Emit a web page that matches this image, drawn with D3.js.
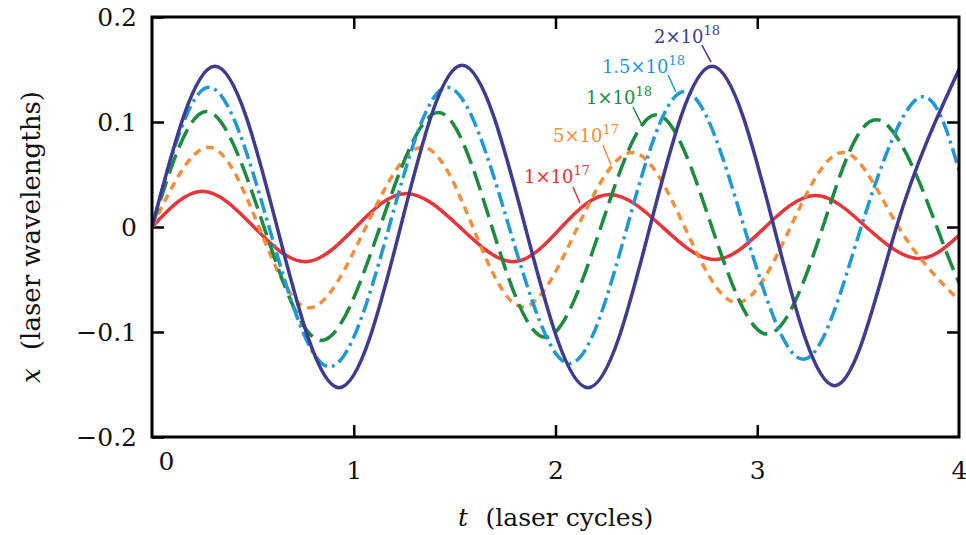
<!DOCTYPE html>
<html><head><meta charset="utf-8">
<script src="https://cdn.jsdelivr.net/npm/d3@7/dist/d3.min.js"></script>
<style>body{margin:0;background:#fff}</style>
</head><body><svg id="c" width="966" height="535"></svg>
<script>
// ---- data ----
const xTicks = [0, 1, 2, 3, 4];
const xTickLabels = ["0", "1", "2", "3", "4"];
const yTicks = [-0.2, -0.1, 0, 0.1, 0.2];
const yTickLabels = ["\u22120.2", "\u22120.1", "0", "0.1", "0.2"];

const labelMantissa = ["1", "5", "1", "1.5", "2"];
const labelExponent = ["17", "17", "18", "18", "18"];

const tRed = [0, 0.25, 0.505, 0.76, 1.01, 1.26, 1.525, 1.79, 2.03, 2.27, 2.53, 2.79, 3.04, 3.29, 3.54, 3.79, 4.0];
const xRed = [0, 0.034, 0, -0.033, 0, 0.032, 0, -0.033, 0, 0.031, 0, -0.031, 0, 0.030, 0, -0.030, -0.008];

const tOrange = [0, 0.28, 0.53, 0.78, 1.06, 1.34, 1.59, 1.84, 2.11, 2.38, 2.64, 2.90, 3.165, 3.43, 3.70, 4.0];
const xOrange = [0, 0.076, 0, -0.077, 0, 0.076, 0, -0.076, 0, 0.071, 0, -0.072, 0, 0.071, 0, -0.070];

const tGreen = [0, 0.27, 0.555, 0.84, 1.13, 1.42, 1.685, 1.95, 2.225, 2.50, 2.775, 3.05, 3.325, 3.60, 3.89, 4.0];
const xGreen = [0, 0.110, 0, -0.108, 0, 0.109, 0, -0.105, 0, 0.107, 0, -0.102, 0, 0.102, 0, -0.053];

const tLightBlue = [0, 0.283, 0.58, 0.88, 1.175, 1.465, 1.77, 2.07, 2.355, 2.64, 2.935, 3.23, 3.515, 3.80, 4.0];
const xLightBlue = [0, 0.133, 0, -0.133, 0, 0.133, 0, -0.130, 0, 0.129, 0, -0.126, 0, 0.123, 0.054];

const tBlue = [0, 0.312, 0.62, 0.927, 1.232, 1.537, 1.85, 2.161, 2.468, 2.776, 3.083, 3.39, 3.69, 4.0];
const xBlue = [0, 0.153, 0, -0.153, 0, 0.154, 0, -0.153, 0, 0.153, 0, -0.151, 0, 0.150];

// annotation anchors in data coordinates (text start, leader line)
const annText = [[1.844, 0.0419], [1.988, 0.081], [2.151, 0.1171], [2.230, 0.1467], [2.488, 0.1752]];
const annLine = [[2.087, 0.0381, 2.121, 0.0229], [2.235, 0.0781, 2.275, 0.059], [2.384, 0.1143, 2.429, 0.0971],
                 [2.558, 0.1448, 2.597, 0.1286], [2.726, 0.1733, 2.771, 0.1571]];

// ---- styles ----
const colors = ["#e8343a", "#f28e3c", "#1c8b3f", "#1f98d5", "#3e3b91"];
const dashes = [null, "8,6", "20,8", "15,5,3,5", null];

const series = [[tRed, xRed], [tOrange, xOrange], [tGreen, xGreen], [tLightBlue, xLightBlue], [tBlue, xBlue]];

const svg = d3.select("#c");
const L = 152, R = 959, T = 17, B = 437;
const x = d3.scaleLinear().domain([0, 4]).range([L, R]);
const y = d3.scaleLinear().domain([-0.2, 0.2]).range([B, T]);
const font = "'DejaVu Serif', serif";

svg.append("clipPath").attr("id", "clip").append("rect")
  .attr("x", L).attr("y", T).attr("width", R - L).attr("height", B - T);

// axes
const gl = svg.append("g").attr("transform", `translate(${L},0)`)
  .call(d3.axisLeft(y).tickValues(yTicks).tickSizeInner(-12).tickSizeOuter(0).tickPadding(15)
    .tickFormat((d, i) => yTickLabels[i]));
const gr = svg.append("g").attr("transform", `translate(${R},0)`)
  .call(d3.axisRight(y).tickValues(yTicks.slice(1, -1)).tickSizeInner(-12).tickSizeOuter(0).tickFormat(""));
const gb = svg.append("g").attr("transform", `translate(0,${B})`)
  .call(d3.axisBottom(x).tickValues(xTicks).tickSizeInner(-12).tickSizeOuter(0).tickPadding(24)
    .tickFormat((d, i) => xTickLabels[i]));
const gt = svg.append("g").attr("transform", `translate(0,${T})`)
  .call(d3.axisTop(x).tickValues(xTicks.slice(1, -1)).tickSizeInner(-12).tickSizeOuter(0).tickFormat(""));

[gl, gr, gb, gt].forEach(g => {
  g.select(".domain").remove();
  g.selectAll(".tick line").attr("stroke", "#000").attr("stroke-width", 2.5);
  g.selectAll("text").attr("font-family", font).attr("font-size", 25).attr("fill", "#111");
});
gb.selectAll(".tick").filter(d => d === 0 || d === 4).select("line").remove();
gb.selectAll(".tick").filter(d => d === 0).select("text").attr("transform", "translate(14,-9)");

// curves
const line = d3.line().x(d => x(d[0])).y(d => y(d[1])).curve(d3.curveNatural);
const gc = svg.append("g").attr("clip-path", "url(#clip)");
series.forEach((s, i) => {
  const pts = s[0].map((t, k) => [t, s[1][k]]);
  gc.append("path").attr("d", line(pts)).attr("fill", "none")
    .attr("stroke", colors[i]).attr("stroke-width", 3.5)
    .attr("stroke-dasharray", dashes[i]).attr("stroke-linecap", "butt");
});

// frame
svg.append("rect").attr("x", L).attr("y", T).attr("width", R - L).attr("height", B - T)
  .attr("fill", "none").attr("stroke", "#000").attr("stroke-width", 3);

// annotations
annText.forEach((p, i) => {
  const t = svg.append("text").attr("x", x(p[0])).attr("y", y(p[1]))
    .attr("font-family", font).attr("font-size", 18).attr("fill", colors[i]);
  t.append("tspan").text(labelMantissa[i] + "\u00d710");
  t.append("tspan").attr("dy", -8).attr("font-size", 13).text(labelExponent[i]);
  const l = annLine[i];
  svg.append("line").attr("x1", x(l[0])).attr("y1", y(l[1])).attr("x2", x(l[2])).attr("y2", y(l[3]))
    .attr("stroke", colors[i]).attr("stroke-width", 1.5);
});

// axis titles
const xt = svg.append("text").attr("x", 458).attr("y", 526)
  .attr("font-family", font).attr("font-size", 25).attr("fill", "#111");
xt.append("tspan").attr("font-style", "italic").text("t");
xt.append("tspan").text("\u2002\u2009(laser cycles)");

const yt = svg.append("text").attr("transform", "translate(40,237) rotate(-90)")
  .attr("text-anchor", "middle").attr("font-family", font).attr("font-size", 26).attr("fill", "#111");
yt.append("tspan").attr("font-style", "italic").text("x");
yt.append("tspan").text("\u2002\u2009(laser wavelengths)");
</script></body></html>
